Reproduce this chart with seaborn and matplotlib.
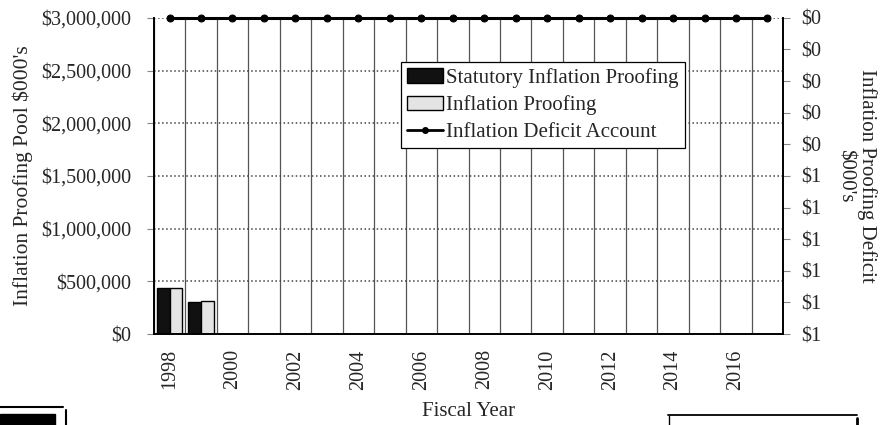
import numpy as np
import pandas as pd
import seaborn as sns
import matplotlib.pyplot as plt
from matplotlib.lines import Line2D
from matplotlib.patches import Rectangle

years = list(range(1998, 2018))
bar_years = [1998, 1999]
statutory = [440000, 300000]
proofing = [440000, 315000]
deficit = [0, 0, 0, 0, 0, 0, 0, 0, 0, 0, 0, 0, 0, 0, 0, 0, 0, 0, 0, 0]
pool_ticks = [0, 500000, 1000000, 1500000, 2000000, 2500000, 3000000]
deficit_ticks = [0.0, 0.1, 0.2, 0.3, 0.4, 0.5, 0.6, 0.7, 0.8, 0.9, 1.0]

df = pd.DataFrame({
    "year": [str(y) for y in bar_years] * 2,
    "value": statutory + proofing,
    "series": ["Statutory Inflation Proofing"] * 2 + ["Inflation Proofing"] * 2,
})

sns.set_style("white")
plt.rcParams["font.family"] = ["Liberation Serif", "DejaVu Serif"]

fig = plt.figure(figsize=(8.84, 4.25), dpi=100)
ax = fig.add_axes([0.174, 0.214, 0.712, 0.744])

sns.barplot(data=df, x="year", y="value", hue="series",
            order=[str(y) for y in years],
            hue_order=["Statutory Inflation Proofing", "Inflation Proofing"],
            palette=["#111111", "#e4e4e4"], edgecolor="black", linewidth=1,
            width=0.82, ax=ax, legend=True)
bar_handles, bar_labels = ax.get_legend_handles_labels()
ax.get_legend().remove()

ax.set_xlim(-0.5, len(years) - 0.5)
ax.set_ylim(0, 3000000)
ax.set_yticks(pool_ticks)
ax.set_yticklabels([f"${v:,.0f}" for v in pool_ticks], fontsize=14.5)
ax.set_xticks(range(0, len(years), 2))
ax.set_xticklabels([str(y) for y in years[::2]], rotation=90, fontsize=14.5)
ax.set_xticks(np.arange(-0.5, len(years), 1), minor=True)
ax.grid(axis="y", which="major", linestyle=":", color="#444444", linewidth=1.1)
ax.grid(axis="x", which="minor", linestyle="-", color="#555555", linewidth=0.9)
ax.tick_params(axis="x", which="major", length=0, pad=11)
ax.tick_params(axis="x", which="minor", length=4, color="#888888", direction="out")
ax.tick_params(axis="y", length=5, color="#888888", direction="out", left=True, pad=11)
ax.set_axisbelow(True)
for s in ["left", "bottom"]:
    ax.spines[s].set_color("black")
    ax.spines[s].set_linewidth(1.4)
ax.spines["top"].set_visible(False)
ax.spines["right"].set_visible(False)
ax.set_xlabel("Fiscal Year", fontsize=15, labelpad=9)
ax.set_ylabel("Inflation Proofing Pool $000's", fontsize=15.5, labelpad=6)

ax2 = ax.twinx()
sns.lineplot(x=np.arange(len(years)), y=deficit, ax=ax2, color="black",
             marker="o", markersize=5, linewidth=2.2, markeredgecolor="black")
for ln in ax2.get_lines():
    ln.set_clip_on(False)
ax2.set_ylim(1.0, 0.0)
ax2.set_yticks(deficit_ticks)
ax2.set_yticklabels([f"${int(v + 0.5)}" for v in deficit_ticks], fontsize=14.5)
ax2.tick_params(axis="y", length=5, color="#888888", direction="out", right=True, pad=8)
ax2.spines["right"].set_color("black")
ax2.spines["right"].set_linewidth(1.4)
ax2.spines["top"].set_visible(False)
ax2.spines["left"].set_visible(False)
ax2.spines["bottom"].set_visible(False)
ax2.set_ylabel("Inflation Proofing Deficit\n$000's", fontsize=15, rotation=270,
               labelpad=40, linespacing=1.2)

line_handle = Line2D([], [], color="black", marker="o", markersize=4, linewidth=2)
leg = ax2.legend(bar_handles + [line_handle],
                 bar_labels + ["Inflation Deficit Account"],
                 loc="upper left", bbox_to_anchor=(0.393, 0.861), fontsize=15,
                 frameon=True, fancybox=False, framealpha=1, edgecolor="black",
                 handlelength=1.7, handleheight=0.7, handletextpad=0.15,
                 labelspacing=0.35, borderpad=0.3, borderaxespad=0)
leg.get_frame().set_linewidth(0.9)

# scanned page fragments below the chart
fig.add_artist(Line2D([0, 63 / 884], [1 - 407 / 425] * 2, color="black", lw=1.5))
fig.add_artist(Line2D([66 / 884] * 2, [1 - 410 / 425, 0], color="black", lw=1.5))
fig.add_artist(Rectangle((0, 0), 55 / 884, 1 - 414 / 425, color="black"))
fig.add_artist(Line2D([668 / 884, 857 / 884], [1 - 415 / 425] * 2, color="black", lw=1.3))
fig.add_artist(Line2D([857 / 884] * 2, [1 - 418 / 425, 0], color="black", lw=2))
fig.add_artist(Line2D([669 / 884] * 2, [1 - 416 / 425, 0], color="black", lw=1))

fig.savefig("out.png", dpi=100)
